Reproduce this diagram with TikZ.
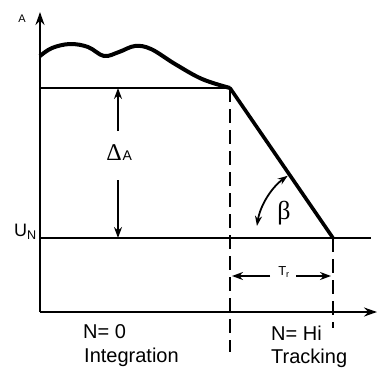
\documentclass[tikz,border=0pt]{standalone}
\usepackage{fontspec}
\setmainfont{Liberation Sans}
\newfontfamily\greekfont{Liberation Serif}
\usetikzlibrary{arrows.meta}
\tikzset{
  axisline/.style={line width=2.2pt,-{Stealth[length=13pt,width=9pt]}},
  thinline/.style={line width=2pt},
  boundline/.style={line width=2pt,dash pattern=on 14pt off 7pt},
  dimarrow/.style={line width=1.8pt,-{Stealth[length=11pt,width=8pt]}},
  lbl/.style={font=\fontsize{20}{22}\selectfont,inner sep=0pt}
}

\begin{document}
\begin{tikzpicture}[x=1pt,y=-1pt]
  \useasboundingbox (0,0) rectangle (380,372);
  \coordinate (O)    at (40,312);
  \coordinate (Ytip) at (40,12);
  \coordinate (Xtip) at (377,312);
  \coordinate (C0)   at (40,88);
  \coordinate (K)    at (230,88);
  \coordinate (K2)   at (230,352);
  \coordinate (U0)   at (40,238);
  \coordinate (U1)   at (371,238);
  \coordinate (E)    at (333,238);
  \coordinate (E2)   at (333,328);
  \coordinate (Ltop) at (118,88);
  \coordinate (Lbot) at (118,238);
  \coordinate (Tl)   at (232,276);
  \coordinate (Tr)   at (331,276);

  % axes
  \draw[axisline] (O) -- (Ytip);
  \draw[axisline] (O) -- (Xtip);

  % levels
  \draw[thinline] (C0) -- (K);
  \draw[thinline] (U0) -- (U1);
  \draw[boundline] (K) -- (K2);
  \draw[boundline] (E) -- (E2);

  % characteristic
  \draw[line width=4pt,line join=round] plot[smooth,tension=0.6] coordinates
    {(40,56) (52,48) (70,44) (88,47) (104,56) (119,52) (135,46) (151,49)
     (175,64) (202,79) (230,88)};
  \draw[line width=3.6pt,line cap=round] (K) -- (E);

  % delta A
  \node[font=\fontsize{24}{26}\greekfont,inner sep=0pt] (dA) at (114,153) {Δ};
  \node[font=\fontsize{14}{16}\selectfont,inner sep=0pt,anchor=base west]
    (dAsub) at ([xshift=0.5pt]dA.base east) {A};
  \draw[dimarrow] (118,131) -- (Ltop);
  \draw[dimarrow] (118,180) -- (Lbot);

  % angle
  \draw[line width=1.8pt,{Stealth[length=10pt,width=7pt]}-{Stealth[length=10pt,width=7pt]}]
    ([shift={(-171:77)}]E) arc[start angle=-171,end angle=-126,radius=77];
  \node[font=\fontsize{26}{28}\greekfont,inner sep=0pt] (beta) at (284,213) {β};

  % T_r
  \node[font=\fontsize{13}{15}\selectfont,inner sep=0pt] (tr) at (284,272) {T\textsubscript{r}};
  \draw[dimarrow] (270,276) -- (Tl);
  \draw[dimarrow] (296,276) -- (Tr);

  % labels
  \node[font=\fontsize{11}{13}\selectfont,inner sep=0pt] (ya) at (22,19) {A};
  \node[font=\fontsize{18}{20}\selectfont,inner sep=0pt,anchor=east] (un) at (37,232) {U\textsubscript{N}};
  \node[lbl,anchor=west] (n0) at (83,332) {N= 0};
  \node[lbl,anchor=west] (integ) at (84,357) {Integration};
  \node[lbl,anchor=west] (nhi) at (271,333) {N= Hi};
  \node[lbl,anchor=west] (track) at (271,358) {Tracking};
\end{tikzpicture}
\end{document}
